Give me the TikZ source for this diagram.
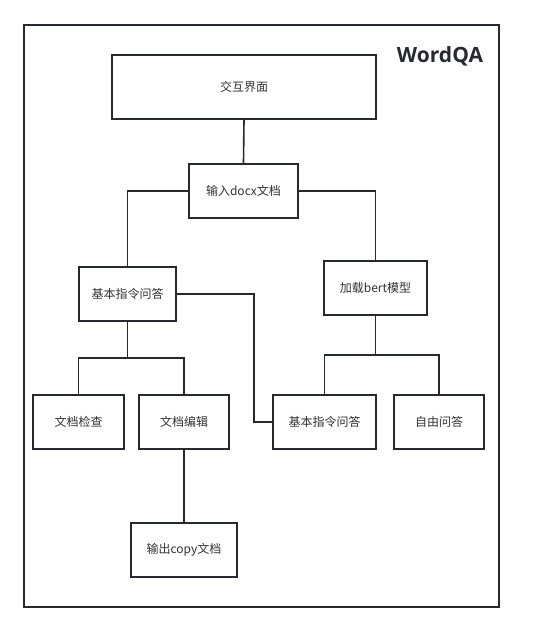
\documentclass[tikz,border=0pt]{standalone}
\usepackage{fontspec}
\newfontfamily\cjk{Noto Sans CJK SC}
\newfontfamily\titlefont{Open Sans}
\definecolor{ink}{HTML}{262A2E}
\definecolor{txt}{HTML}{333333}
\begin{document}
\begin{tikzpicture}[x=1pt,y=-1pt,
  box/.style={draw=ink,line width=2pt,fill=white,inner sep=0pt,font=\cjk\fontsize{12}{14}\selectfont,text=txt},
  conn/.style={draw=ink,line width=1.6pt}]
\useasboundingbox (0,0) rectangle (557,632);
\draw[draw=ink,line width=2pt] (24,25) rectangle (499,607);
\node[font=\titlefont\bfseries\fontsize{21}{24}\selectfont,text=ink] (title) at (440,56) {WordQA};
% boxes
\node[box,minimum width=264pt,minimum height=64pt] (ui) at (244,87) {交互界面};
\node[box,minimum width=109pt,minimum height=54pt] (input) at (243.5,191) {输入docx文档};
\node[box,minimum width=97pt,minimum height=54pt] (basic) at (127.5,294) {基本指令问答};
\node[box,minimum width=103pt,minimum height=54pt] (bert) at (375.5,288) {加载bert模型};
\node[box,minimum width=91pt,minimum height=54pt] (check) at (78.5,422) {文档检查};
\node[box,minimum width=90pt,minimum height=54pt] (edit) at (184,422) {文档编辑};
\node[box,minimum width=103pt,minimum height=54pt] (basic2) at (324.5,422) {基本指令问答};
\node[box,minimum width=90pt,minimum height=54pt] (free) at (439,422) {自由问答};
\node[box,minimum width=106pt,minimum height=54pt] (out) at (184,550) {输出copy文档};
% connectors
\begin{scope}[on background layer/.style={}]
\draw[conn] (ui.south) -- (input.north);
\draw[conn] (input.west) -| (basic.north);
\draw[conn] (input.east) -| (bert.north);
\draw[conn] (basic.east) -- (254,294) |- (basic2.west);
\draw[conn] (basic.south) -- (127.5,358) -| (check.north);
\draw[conn] (127.5,358) -| (edit.north);
\draw[conn] (bert.south) -- (375.5,355) -| (basic2.north);
\draw[conn] (375.5,355) -| (free.north);
\draw[conn] (edit.south) -- (out.north);
\end{scope}
\end{tikzpicture}
\end{document}
